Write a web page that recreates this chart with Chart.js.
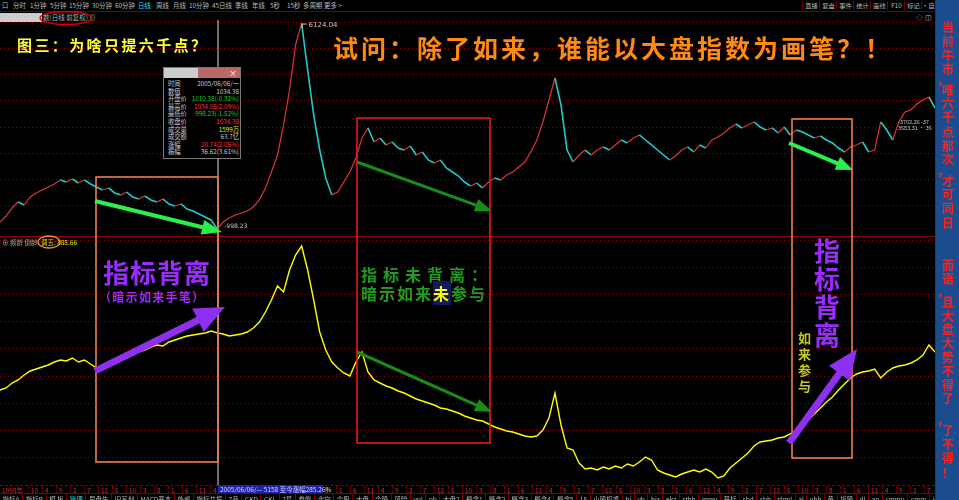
<!DOCTYPE html>
<html>
<head>
<meta charset="utf-8">
<script src="https://cdn.jsdelivr.net/npm/chart.js@4.4.1/dist/chart.umd.min.js"></script>
<style>
html, body { margin: 0; padding: 0; background: #000; }
#stage { position: relative; width: 959px; height: 500px; overflow: hidden; background: #000;
  font-family: "Noto Sans CJK SC", "Noto Sans", sans-serif; }
.abs { position: absolute; white-space: nowrap; }
#topbar { left: 0; top: 0; width: 935px; height: 11px; border-bottom: 1px solid #7a0000; }
#topbar span { position: absolute; top: 0; font-size: 6.4px; line-height: 11px; color: #bdbdbd; }
#topbar .btn { top: 1px; width: 17px; height: 9px; line-height: 9px; text-align: center; border-left: 1px solid #7a0000; font-size: 6.2px; }
#sep { left: 0; top: 236px; width: 935px; height: 1px; background: #8a0000; }
#cursor { left: 217px; top: 20px; width: 2px; height: 465px; background: #6e6e6e; }
#info { left: 163px; top: 67px; width: 76px; height: 90px; background: #000; border: 1px solid #7a7a7a; }
#info .ttl { position: absolute; left: 0; top: 0; width: 76px; height: 10px; background: #b86a6a; }
#info .ttl i { position: absolute; left: 0; top: 0; width: 34px; height: 10px; background: #cdcdcd; }
#info .ttl b { position: absolute; right: 3px; top: 0; font-size: 8px; line-height: 10px; color: #fff; font-weight: normal; }
#info .row { position: absolute; left: 0; width: 76px; height: 7.5px; font-size: 6.3px; line-height: 7.5px; }
#info .row .k { position: absolute; left: 4px; color: #d0d0d0; }
#info .row .v { position: absolute; right: 1px; }
#dates { left: 0; top: 485px; width: 935px; height: 8px; border-top: 1px dashed #8a0000; }
#dates span { position: absolute; top: 0; font-size: 6.5px; line-height: 8px; color: #cc2a2a; padding-left: 2px; border-left: 1px dashed #8a0000; }
#datebox { left: 218px; top: 485px; width: 105px; height: 8px; background: #2222aa; color: #cfd8ff; font-size: 6.5px; line-height: 8px; padding-left: 2px; box-sizing: border-box; }
#tabs { left: 0; top: 493px; width: 935px; height: 10px; display: flex; border-top: 1px solid #7a0000; }
#tabs span { font-size: 6.5px; line-height: 10px; color: #b8b8b8; padding: 0 2.6px; border-right: 1px solid #7a0000; white-space: nowrap; }
#side { left: 935px; top: 0; width: 24px; height: 500px; background: #1a4c8e; border-left: 1px solid #c00000; box-sizing: border-box; }
.sc { position: absolute; width: 24px; text-align: center; font-size: 12px; line-height: 14px; color: #ff2222; font-weight: 700; }
canvas { position: absolute; left: 0; }
svg { position: absolute; left: 0; top: 0; }
</style>
</head>
<body>
<div id="stage">
  <div id="topbar" class="abs"></div>
  <div class="abs" style="left:0;top:13px;width:42px;height:9px;background:#cdcdcd;"></div>
  <div class="abs" style="left:43px;top:12px;font-size:6.5px;line-height:11px;color:#b8b8b8;">数(日线 前复权) ⊙</div>
  <div class="abs" style="left:916px;top:12px;font-size:7px;line-height:11px;color:#b8b8b8;">◇ ◫</div>

  <canvas id="priceChart" width="935" height="210" style="top:22px;"></canvas>
  <div id="sep" class="abs"></div>
  <canvas id="indChart" width="935" height="245" style="top:240px;"></canvas>
  <div class="abs" style="left:2px;top:237px;font-size:6.5px;line-height:10px;color:#a8a8a8;">⊕ 频龄 倒龄 <span style="color:#e6e600;margin-left:2px;">调五: 888.66</span></div>
  <div class="abs" style="left:898px;top:119px;font-size:5.5px;line-height:6px;color:#c8c8c8;">-3702.26 -37<br>3583.31 · 35</div>

  <div id="cursor" class="abs"></div>
  <div id="info" class="abs"><div class="ttl"><i></i><b>×</b></div></div>

  <svg id="marks" width="959" height="500"></svg>

  <div class="abs" style="left:17px;top:37px;font-size:15px;line-height:16px;letter-spacing:2.4px;color:#ffff33;font-weight:700;">图三：为啥只提六千点？</div>
  <div class="abs" style="left:333px;top:33px;font-size:25px;line-height:28px;letter-spacing:3px;color:#ff8a10;font-weight:700;">试问：除了如来，谁能以大盘指数为画笔？！</div>
  <div class="abs" style="left:103px;top:258px;font-size:26px;line-height:28px;letter-spacing:1px;color:#9a2cff;font-weight:700;">指标背离</div>
  <div class="abs" style="left:99px;top:290px;font-size:12px;line-height:14px;letter-spacing:1.3px;color:#9a2cff;font-weight:700;">（暗示如来手笔）</div>
  <div class="abs" style="left:361px;top:265px;font-size:16px;line-height:18px;letter-spacing:6px;color:#1e9e1e;font-weight:700;">指标未背离：</div>
  <div class="abs" style="left:361px;top:284px;font-size:16px;line-height:18px;letter-spacing:2px;color:#1e9e1e;font-weight:700;">暗示如来<span style="background:#121c5c;color:#ffff00;">未</span>参与</div>
  <div class="abs" style="left:814px;top:236px;font-size:26px;line-height:28px;color:#9a2cff;font-weight:700;white-space:normal;width:28px;">指<br>标<br>背<br>离</div>
  <div class="abs" style="left:798px;top:330px;font-size:13px;line-height:16px;color:#c8c820;font-weight:700;white-space:normal;width:14px;">如<br>来<br>参<br>与</div>

  <div id="dates" class="abs"></div>
  <div id="datebox" class="abs">2005/06/06/— 5158 至今涨幅285.26%</div>
  <div id="tabs" class="abs"></div>
  <div id="side" class="abs"></div>
</div>

<script>
// 指数收盘（自左至右，约每6像素一个点）
const priceValues = [
  1174, 1323, 1522, 1672, 1597, 1796, 1896, 1970, 2045, 2119,
  2219, 2169, 2244, 2144, 2219, 2119, 2045, 1970, 2020, 1896,
  1846, 1920, 1796, 1746, 1821, 1721, 1672, 1746, 1622, 1572,
  1622, 1497, 1448, 1373, 1298, 1224, 998.23, 1174, 1274, 1348,
  1398, 1448, 1547, 1721, 2020, 2418, 2841, 3587, 4458, 5578,
  6124.04, 4956, 3836, 2965, 2269, 1846, 1920, 2169, 2418, 2766,
  3264, 3513, 3164, 3264, 3090, 3164, 3015, 2965, 3065, 2841,
  2916, 2717, 2642, 2717, 2518, 2418, 2318, 2169, 2070, 2144,
  2020, 2169, 2269, 2219, 2343, 2418, 2542, 2667, 2916, 3214,
  3662, 4209, 4757, 4085, 2965, 2667, 2841, 2965, 2841, 2965,
  3040, 2965, 3090, 3214, 3140, 3264, 3339, 3214, 3090, 2965,
  2841, 2717, 2816, 2965, 3040, 2916, 3090, 3015, 3214, 3289,
  3388, 3513, 3612, 3513, 3587, 3662, 3538, 3463, 3513, 3388,
  3538, 3339, 3463, 3413, 3339, 3264, 3314, 3214, 3140, 3015,
  2916, 3040, 3090, 3164, 2916, 2965, 3662, 3463, 3214, 3662,
  3911, 3961, 4110, 4209, 4284, 4010
];

// 副图指标（黄线）
const indicatorValues = [
  660, 668, 688, 700, 720, 736, 744, 752, 760, 772,
  780, 776, 788, 772, 780, 764, 748, 740, 756, 764,
  780, 788, 800, 812, 820, 832, 840, 836, 852, 860,
  868, 876, 880, 884, 888, 896, 888.66, 884, 876, 880,
  884, 892, 908, 932, 972, 1020, 1076, 1052, 1140, 1200,
  1236, 1140, 1020, 892, 820, 772, 748, 728, 716, 772,
  812, 732, 700, 688, 676, 668, 656, 648, 636, 624,
  616, 608, 600, 588, 584, 576, 568, 556, 548, 540,
  536, 524, 512, 504, 496, 492, 484, 476, 472, 476,
  500, 548, 648, 520, 428, 420, 368, 344, 348, 340,
  352, 344, 356, 348, 364, 356, 372, 392, 380, 340,
  328, 320, 312, 324, 332, 340, 332, 344, 332, 308,
  316, 348, 368, 388, 408, 436, 452, 456, 460, 468,
  472, 484, 500, 516, 540, 564, 588, 612, 632, 660,
  684, 708, 724, 732, 736, 744, 708, 732, 748, 756,
  760, 768, 780, 800, 840, 812
];

// 时间轴刻度（月份）
const dateTicks = ['10', '4', '9', '2', '7', '12', '5', '10', '3', '8', '1', '6', '11', '4',
  '9', '2', '7', '12', '5', '10', '3', '8', '1', '6', '11', '4', '9', '2', '7', '12', '5', '10',
  '3', '8', '1', '6', '11', '4', '9', '2', '7', '12', '5', '10',
  '3', '8', '1', '6', '11', '4', '9', '2', '7', '12', '5', '10',
  '3', '8', '1', '6', '11', '4', '9', '2', '7'];

const infoRows = [
  ['时间', '2005/06/06/一', '#c8c8c8'],
  ['数值', '1034.38', '#c8c8c8'],
  ['开盘价', '1010.38(-0.32%)', '#18d018'],
  ['最高价', '1034.05(2.09%)', '#ff3030'],
  ['最低价', '998.23(-1.52%)', '#18d018'],
  ['收盘价', '1034.38', '#ff3030'],
  ['成交量', '1599万', '#e8e800'],
  ['成交额', '63.7亿', '#c8c8c8'],
  ['涨幅', '20.74(2.05%)', '#ff3030'],
  ['振幅', '36.62(3.61%)', '#c8c8c8']
];

const periods = [['口', 2], ['分时', 13], ['1分钟', 30], ['5分钟', 50], ['15分钟', 69], ['30分钟', 92],
  ['60分钟', 115], ['日线', 138], ['周线', 156], ['月线', 173], ['10分钟', 189], ['45日线', 212],
  ['季线', 235], ['年线', 252], ['5秒', 270], ['15秒', 287], ['多周期', 303], ['更多 >', 324]];
const buttons = ['直播', '复盘', '事件', '统计', '画线', 'F10', '标记', '·自选'];
const tabs = ['指标A', '指标B', '模 板', '管理', '早盘先', '旧写划', 'MACD基本', '外资', '指标共振', '7品',
  'CKD', 'CKL', '7星', '券能', '北向', '个股', '大盘', '个股', '风险', 'vol', 'ob', '大盘2', '概念1',
  '概念2', '概念3', '概念4', '概念5', '15', '小股权重', 'bi', 'yb', 'hjz', 'ekz', 'sthh', 'mmv', '基标',
  'sbd', 'sbh', 'sbml', 'al', 'ybh', '黄', '拆股', 'dl', 'ap', 'cmmu', 'cmm', 'isod', 'ly', 'dy'];
const sideChars = [['当', 27], ['前', 41], ['牛', 55], ['市', 69], ['，', 80, -5], ['唯', 90], ['六', 103],
  ['千', 117], ['点', 132], ['那', 146], ['次', 159], ['，', 171, -5], ['才', 181], ['可', 194], ['同', 208],
  ['日', 223], ['而', 265], ['语', 279], ['，', 292, -5], ['且', 302], ['大', 316], ['盘', 329], ['大', 343],
  ['势', 357], ['不', 371], ['得', 385], ['了', 398], ['，', 420, -5], ['了', 430], ['不', 444], ['得', 458], ['！', 473]];

// 顶部工具栏
const topbar = document.getElementById('topbar');
periods.forEach(([t, x]) => {
  const s = document.createElement('span');
  s.textContent = t; s.style.left = x + 'px';
  if (t === '日线') s.style.color = '#30d8e0';
  topbar.appendChild(s);
});
buttons.forEach((t, i) => {
  const s = document.createElement('span');
  s.className = 'btn'; s.textContent = t; s.style.left = (802 + i * 17) + 'px';
  topbar.appendChild(s);
});

// 信息框
const info = document.getElementById('info');
infoRows.forEach(([k, v, c], i) => {
  const r = document.createElement('div');
  r.className = 'row'; r.style.top = (12 + i * 7.6) + 'px';
  r.innerHTML = '<span class="k">' + k + '</span><span class="v" style="color:' + c + '">' + v + '</span>';
  info.appendChild(r);
});

// 时间轴
const dates = document.getElementById('dates');
const first = document.createElement('span');
first.textContent = '1998年'; first.style.left = '0px'; first.style.borderLeft = 'none';
dates.appendChild(first);
dateTicks.forEach((t, i) => {
  const s = document.createElement('span');
  s.textContent = t; s.style.left = (28 + i * 14) + 'px';
  dates.appendChild(s);
});

const tabBox = document.getElementById('tabs');
tabs.forEach(t => {
  const s = document.createElement('span');
  s.textContent = t;
  if (t === '管理') s.style.color = '#30d0d0';
  tabBox.appendChild(s);
});

const side = document.getElementById('side');
sideChars.forEach(([c, y, dx]) => {
  const d = document.createElement('div');
  d.className = 'sc'; d.textContent = c;
  d.style.top = (y - 7) + 'px'; d.style.left = (dx || 0) + 'px';
  side.appendChild(d);
});

// 标注：方框、箭头
function rect(x, y, w, h, c) {
  return '<rect x="' + x + '" y="' + y + '" width="' + w + '" height="' + h + '" fill="none" stroke="' + c + '" stroke-width="1.6"/>';
}
function ellipse(cx, cy, rx, ry, c) {
  return '<ellipse cx="' + cx + '" cy="' + cy + '" rx="' + rx + '" ry="' + ry + '" fill="none" stroke="' + c + '" stroke-width="1.4"/>';
}
function arrow(x1, y1, x2, y2, w, hl, hw, c) {
  const dx = x2 - x1, dy = y2 - y1, L = Math.hypot(dx, dy);
  const ux = dx / L, uy = dy / L, nx = -uy, ny = ux;
  const bx = x2 - ux * hl, by = y2 - uy * hl;
  const pts = [
    [x1 + nx * w / 2, y1 + ny * w / 2], [bx + nx * w / 2, by + ny * w / 2], [bx + nx * hw / 2, by + ny * hw / 2],
    [x2, y2], [bx - nx * hw / 2, by - ny * hw / 2], [bx - nx * w / 2, by - ny * w / 2], [x1 - nx * w / 2, y1 - ny * w / 2]
  ];
  return '<polygon points="' + pts.map(p => p[0].toFixed(1) + ',' + p[1].toFixed(1)).join(' ') + '" fill="' + c + '"/>';
}
document.getElementById('marks').innerHTML = [
  rect(96, 177, 122, 285, '#ee8048'),
  rect(357, 118, 133, 325, '#e81818'),
  rect(792, 119, 60, 339, '#ee8048'),
  arrow(95, 201, 222, 232, 4, 20, 15, '#2cf04a'),
  arrow(357, 162, 492, 211, 3, 17, 13, '#178c17'),
  arrow(789, 143, 853, 170, 4, 17, 14, '#2cf04a'),
  arrow(95, 371, 225, 307, 7, 30, 26, '#8f2ff0'),
  arrow(357, 352, 492, 412, 3, 17, 13, '#178c17'),
  arrow(789, 443, 857, 349, 7, 30, 26, '#8f2ff0'),
  ellipse(66, 18, 26, 6.5, '#e00000'),
  ellipse(49, 242, 11, 6, '#ff8c1a')
].join('');

// 最高、最低点标记
const extremes = {
  id: 'extremes',
  afterDatasetsDraw(chart) {
    const ctx = chart.ctx;
    const pts = chart.getDatasetMeta(0).data;
    const hi = priceValues.indexOf(Math.max(...priceValues));
    const lo = priceValues.indexOf(Math.min(...priceValues));
    ctx.save();
    ctx.strokeStyle = '#c8c8c8'; ctx.fillStyle = '#c8c8c8'; ctx.lineWidth = 1;
    ctx.font = '7px "DejaVu Sans"'; ctx.textBaseline = 'middle';
    const p = pts[hi];
    ctx.beginPath(); ctx.moveTo(p.x + 0.5, p.y + 5); ctx.lineTo(p.x + 0.5, p.y + 1); ctx.lineTo(p.x + 5, p.y + 1); ctx.stroke();
    ctx.fillText(priceValues[hi].toFixed(2), p.x + 7, p.y + 2);
    const q = pts[lo];
    ctx.font = '6px "DejaVu Sans"';
    ctx.fillText('-' + priceValues[lo].toFixed(2), q.x + 7, q.y - 3);
    ctx.restore();
  }
};

function panelOptions(min, max, count) {
  return {
    responsive: false, animation: false, events: [],
    layout: { padding: 0 },
    plugins: { legend: { display: false }, tooltip: { enabled: false } },
    elements: { point: { radius: 0 }, line: { tension: 0 } },
    scales: {
      x: { display: false, offset: false },
      y: {
        min: min, max: max,
        ticks: { display: false, count: count },
        grid: { color: '#8a0000', lineWidth: 1, drawTicks: false },
        border: { display: false, dash: [1, 3] }
      }
    }
  };
}

new Chart(document.getElementById('priceChart'), {
  type: 'line',
  data: {
    labels: priceValues.map((_, i) => i),
    datasets: [{
      data: priceValues,
      borderColor: '#22c8cc',
      borderWidth: 1.6,
      segment: {
        borderColor: c => c.p1.parsed.y > c.p0.parsed.y ? '#e03434' : '#22c8cc',
        borderWidth: c => c.p1.parsed.y > c.p0.parsed.y ? 1.2 : 1.6
      }
    }]
  },
  options: panelOptions(925, 6150, 9),
  plugins: [extremes]
});

new Chart(document.getElementById('indChart'), {
  type: 'line',
  data: {
    labels: indicatorValues.map((_, i) => i),
    datasets: [{
      data: indicatorValues,
      borderColor: '#ffff00',
      borderWidth: 1.4
    }]
  },
  options: panelOptions(280, 1260, 10)
});
</script>
</body>
</html>
